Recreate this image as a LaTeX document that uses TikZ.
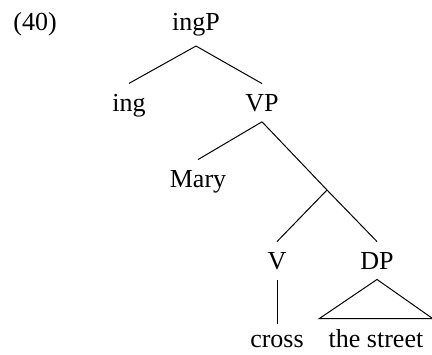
\documentclass[tikz,border=0pt]{standalone}
\usepackage{fontspec}
\setmainfont{Liberation Serif}
\usepackage{tikz}
\tikzstyle{cat} = [inner xsep=0pt, inner ysep=5pt, anchor=base, font=\fontsize{13}{15}\selectfont]
\tikzstyle{branch} = [line width=0.5pt]

\begin{document}
\begin{tikzpicture}[x=0.5pt, y=-0.5pt]
		\useasboundingbox (0,0) rectangle (432,354);
		\node (exno) [cat, anchor=base west] at (13,30) {(40)};
		\node (ingP) [cat] at (196,30) {ingP};
		\node (ing) [cat] at (129,111) {ing};
		\node (VP) [cat] at (262,111) {VP};
		\node (Mary) [cat] at (198,187) {Mary};
		\coordinate (Vbar) at (327,190);
		\node (V) [cat] at (277,269) {V};
		\node (DP) [cat] at (377,269) {DP};
		\node (cross) [cat] at (277,347) {cross};
		\node (street) [cat, inner xsep=4.5pt] at (376,347) {the street};
		\draw [branch] (ingP.south) -- (ing.north);
		\draw [branch] (ingP.south) -- (VP.north);
		\draw [branch] (VP.south) -- (Mary.north);
		\draw [branch] (VP.south) -- (Vbar);
		\draw [branch] (Vbar) -- (V.north);
		\draw [branch] (Vbar) -- (DP.north);
		\draw [branch] (V.south) -- (cross.north);
		\draw [branch] (DP.south) -- (street.north west) -- (street.north east) -- cycle;
		\end{tikzpicture}
\end{document}
